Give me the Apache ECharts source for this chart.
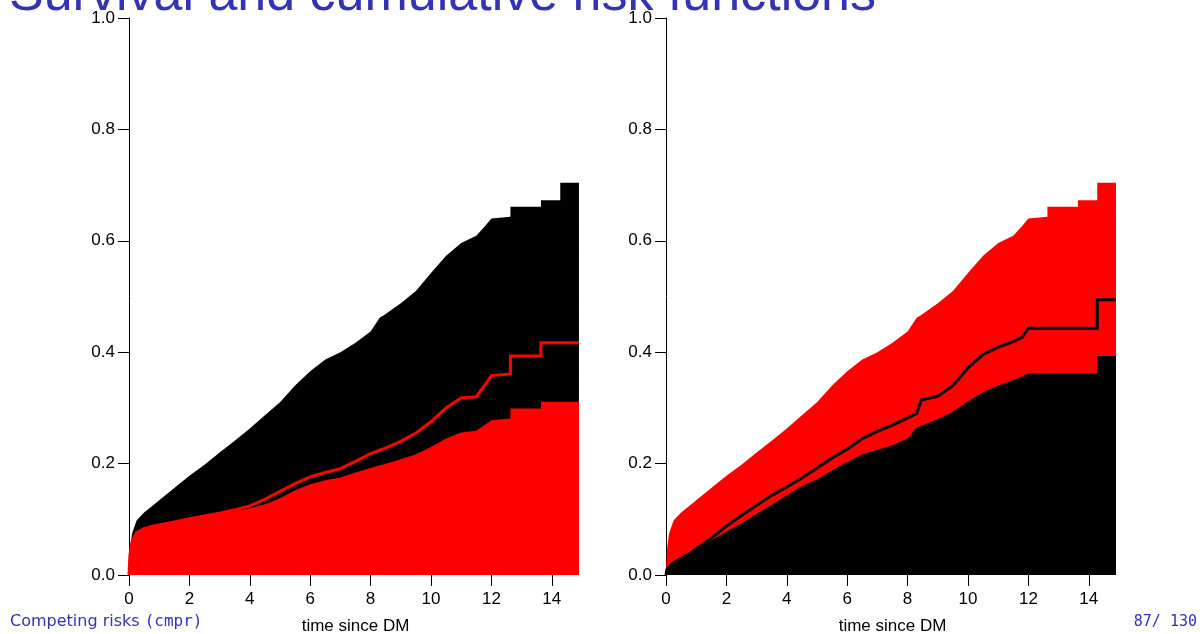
<!DOCTYPE html>
<html>
<head>
<meta charset="utf-8">
<title>Survival and cumulative risk functions</title>
<script src="https://cdn.jsdelivr.net/npm/echarts@6/dist/echarts.min.js"></script>
<style>
  html, body { margin: 0; padding: 0; background: #ffffff; }
  #chart { width: 1204px; height: 634px; }
</style>
</head>
<body>
<div id="chart"></div>
<script>
// Time since DM (years); repeated times mark jumps of the step curves
const times = [0, 0.03, 0.1, 0.25, 0.5, 0.75, 1, 1.5, 2, 2.5, 3, 3.5, 4, 4.5, 5, 5.5,
  6, 6.5, 7, 7.5, 8, 8.3, 8.45, 8.5, 9, 9.5, 10, 10.5, 11, 11.5, 11.8, 12,
  12.63, 12.63, 13.64, 13.64, 14.28, 14.28, 14.9];

// Cumulative incidence, red cause
const cumRed = [0, 0.035, 0.060, 0.076, 0.082, 0.087, 0.089, 0.094, 0.100, 0.105, 0.110, 0.115,
  0.120, 0.127, 0.138, 0.152, 0.163, 0.170, 0.175, 0.184, 0.192, 0.197, 0.199, 0.200,
  0.208, 0.217, 0.230, 0.245, 0.256, 0.259, 0.270, 0.278, 0.281, 0.299, 0.299, 0.311,
  0.311, 0.311, 0.311];

// Cumulative incidence, black cause
const cumBlack = [0, 0.010, 0.014, 0.022, 0.030, 0.036, 0.045, 0.062, 0.078, 0.093, 0.110, 0.126,
  0.143, 0.160, 0.172, 0.188, 0.203, 0.217, 0.225, 0.233, 0.245, 0.265, 0.268, 0.270,
  0.280, 0.293, 0.312, 0.328, 0.340, 0.350, 0.357, 0.362, 0.362, 0.362, 0.362, 0.362,
  0.362, 0.393, 0.393];

// 1 - Kaplan-Meier, red cause only (censoring the other)
const lineRed = [0, 0.035, 0.060, 0.076, 0.083, 0.087, 0.090, 0.095, 0.101, 0.106, 0.111, 0.117,
  0.124, 0.136, 0.150, 0.164, 0.176, 0.184, 0.191, 0.204, 0.218, 0.224, 0.227, 0.228,
  0.240, 0.255, 0.275, 0.300, 0.318, 0.320, 0.342, 0.358, 0.361, 0.393, 0.393, 0.417,
  0.417, 0.417, 0.417];

// 1 - Kaplan-Meier, black cause only (censoring the other)
const lineBlack = [0, 0.010, 0.014, 0.022, 0.030, 0.037, 0.047, 0.066, 0.088, 0.107, 0.125, 0.143,
  0.158, 0.174, 0.192, 0.210, 0.226, 0.245, 0.258, 0.269, 0.282, 0.290, 0.314, 0.315,
  0.321, 0.340, 0.372, 0.396, 0.409, 0.419, 0.427, 0.443, 0.443, 0.443, 0.443, 0.443,
  0.443, 0.494, 0.494];

const xTicks = [0, 2, 4, 6, 8, 10, 12, 14];

const BLUE = '#3333B3';
const RED = '#FF0000';
const BLACK = '#000000';
const AXIS_FONT = 'Liberation Sans, Arial, sans-serif';

// Probability of any event = sum of both cumulative incidences
const total = times.map((t, i) => +(cumRed[i] + cumBlack[i]).toFixed(4));
const pts = vals => times.map((t, i) => [t, vals[i]]);

function xAxisFor(gridIndex) {
  return {
    type: 'value', gridIndex, min: 0, max: 15, offset: 3,
    name: 'time since DM', nameLocation: 'middle', nameGap: 40,
    nameTextStyle: { fontFamily: AXIS_FONT, fontSize: 17, color: BLACK },
    axisLine: { show: false },
    axisTick: { show: true, length: 11, customValues: xTicks, lineStyle: { color: BLACK, width: 1 } },
    axisLabel: { customValues: xTicks, margin: 13, fontFamily: AXIS_FONT, fontSize: 17, color: BLACK },
    splitLine: { show: false }
  };
}

function yAxisFor(gridIndex) {
  return {
    type: 'value', gridIndex, min: 0, max: 1, interval: 0.2,
    axisLine: { show: true, lineStyle: { color: BLACK, width: 1 } },
    axisTick: { show: true, length: 11, lineStyle: { color: BLACK, width: 1 } },
    axisLabel: { margin: 14, fontFamily: AXIS_FONT, fontSize: 17, color: BLACK,
      formatter: v => v.toFixed(1) },
    splitLine: { show: false }
  };
}

function area(gridIndex, vals, color, z) {
  return {
    type: 'line', xAxisIndex: gridIndex, yAxisIndex: gridIndex, data: pts(vals),
    symbol: 'none', showSymbol: false, z,
    lineStyle: { width: 0, opacity: 0 },
    areaStyle: { color, opacity: 1, origin: 'start' }
  };
}

function curve(gridIndex, vals, color, z) {
  return {
    type: 'line', xAxisIndex: gridIndex, yAxisIndex: gridIndex, data: pts(vals),
    symbol: 'none', showSymbol: false, z,
    lineStyle: { width: 3, color, join: 'miter' }
  };
}

const chart = echarts.init(document.getElementById('chart'), null, { renderer: 'canvas' });
chart.setOption({
  animation: false,
  backgroundColor: '#ffffff',
  grid: [
    { left: 129, top: 18, width: 453, height: 557, show: false, containLabel: false, outerBoundsMode: 'none' },
    { left: 666, top: 18, width: 453, height: 557, show: false, containLabel: false, outerBoundsMode: 'none' }
  ],
  xAxis: [xAxisFor(0), xAxisFor(1)],
  yAxis: [yAxisFor(0), yAxisFor(1)],
  series: [
    // left: red cause at the bottom, black stacked on top
    area(0, total, BLACK, 2),
    area(0, cumRed, RED, 3),
    curve(0, lineRed, RED, 4),
    // right: black cause at the bottom, red stacked on top
    area(1, total, RED, 2),
    area(1, cumBlack, BLACK, 3),
    curve(1, lineBlack, BLACK, 4)
  ],
  graphic: [
    {
      type: 'text', x: 9, y: -4, z: 10,
      style: { text: 'Survival and cumulative risk functions', fill: BLUE,
        font: '52px "Liberation Sans", Arial, sans-serif', textAlign: 'left', textVerticalAlign: 'middle' }
    },
    {
      type: 'text', x: 10, y: 622, z: 10,
      style: {
        text: '{a|Competing risks }{b|(cmpr)}', textAlign: 'left', textVerticalAlign: 'middle',
        rich: {
          a: { fill: BLUE, fontFamily: 'DejaVu Sans', fontSize: 16 },
          b: { fill: BLUE, fontFamily: 'DejaVu Sans Mono', fontSize: 16 }
        }
      }
    },
    {
      type: 'text', x: 1197, y: 622, z: 10,
      style: { text: '87/ 130', fill: BLUE, font: '15px "DejaVu Sans Mono", monospace',
        textAlign: 'right', textVerticalAlign: 'middle' }
    }
  ]
});
</script>
</body>
</html>
